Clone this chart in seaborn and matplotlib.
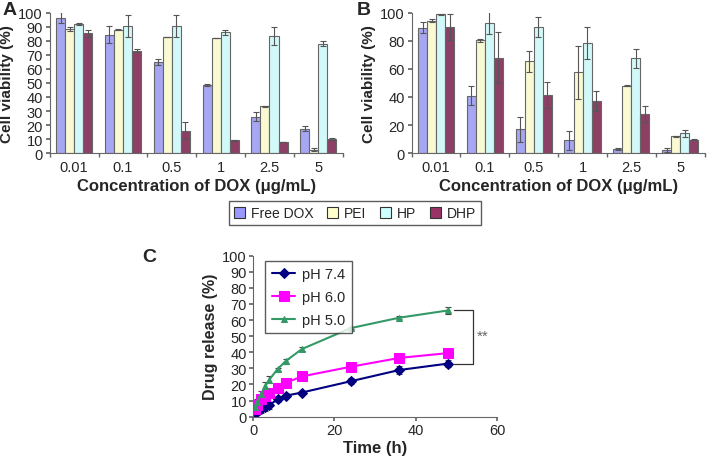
import numpy as np
import pandas as pd
import matplotlib
matplotlib.use("Agg")
import matplotlib.pyplot as plt
import seaborn as sns
from matplotlib.patches import Patch

sns.set_theme(style="white")
plt.rcParams['font.family'] = ['Liberation Sans', 'DejaVu Sans']

# ---- data ----
conc = ['0.01', '0.1', '0.5', '1', '2.5', '5']
groups = ['Free DOX', 'PEI', 'HP', 'DHP']
bar_colors = ['#9999FF', '#FFFFCC', '#CCFFFF', '#993366']

# panel A
a_free = [96.5, 84.5, 65.0, 48.5, 26.0, 17.5]
a_pei = [88.5, 88.0, 83.0, 82.0, 33.5, 2.5]
a_hp = [92.0, 90.5, 90.5, 86.0, 83.5, 78.0]
a_dhp = [85.5, 73.0, 16.0, 9.0, 8.0, 10.0]
a_free_err = [4.0, 6.0, 2.0, 1.0, 3.0, 1.5]
a_pei_err = [1.5, 0.5, 0.0, 0.3, 0.3, 1.0]
a_hp_err = [0.5, 8.0, 8.0, 1.5, 6.5, 2.0]
a_dhp_err = [2.5, 1.0, 6.0, 0.5, 0.0, 1.0]

# panel B
b_free = [89.5, 41.0, 17.0, 9.0, 3.0, 2.0]
b_pei = [94.5, 80.5, 65.5, 57.5, 48.0, 12.0]
b_hp = [99.0, 93.0, 90.0, 78.5, 67.5, 14.0]
b_dhp = [90.0, 68.0, 41.5, 37.0, 28.0, 9.5]
b_free_err = [4.0, 6.5, 9.0, 6.5, 0.5, 1.5]
b_pei_err = [1.0, 1.0, 7.5, 19.0, 0.3, 0.5]
b_hp_err = [0.5, 8.0, 7.0, 11.5, 6.5, 2.5]
b_dhp_err = [9.5, 18.0, 9.5, 7.0, 5.5, 0.5]

# panel C
time_h = [0.5, 1, 2, 3, 4, 6, 8, 12, 24, 36, 48]
ph74 = [2, 3, 5, 6, 7, 11, 13, 15, 22, 29, 33]
ph60 = [5, 7, 11, 13, 15, 18, 21, 25, 31, 36.5, 39.5]
ph50 = [6, 9, 14, 19, 23, 29.5, 34.5, 42, 55, 61.5, 66]
ph74_err = [2, 2, 3, 2.5, 2, 2, 1.5, 1, 2, 2.5, 2]
ph60_err = [2, 2, 2, 2.5, 2, 3, 2, 2.5, 2.5, 2.5, 2]
ph50_err = [2, 2, 2, 2.5, 2, 1, 1.5, 1.5, 0.8, 1, 2]

EDGE = '#666666'
ERR = '#555555'


def long_frame(vals, errs):
    rows = []
    for g, v, e in zip(groups, vals, errs):
        for c, vv, ee in zip(conc, v, e):
            rows.append({'conc': c, 'group': g, 'value': vv, 'err': ee})
    return pd.DataFrame(rows)


def bar_panel(ax, df, yticks, ymax):
    sns.barplot(data=df, x='conc', y='value', hue='group', hue_order=groups,
                palette=bar_colors, errorbar=None, width=0.74,
                edgecolor=EDGE, linewidth=0.8, legend=False, ax=ax)
    for cont, g in zip(ax.containers, groups):
        sub = df[df['group'] == g]
        xs = [p.get_x() + p.get_width() / 2 for p in cont.patches]
        ax.errorbar(xs, sub['value'], yerr=sub['err'], fmt='none',
                    ecolor=ERR, elinewidth=0.8, capsize=2, capthick=0.8)
    ax.set_ylim(0, ymax)
    ax.set_xlim(-0.5, 5.5)
    ax.set_yticks(yticks)
    ax.set_xticks(range(6))
    ax.set_xticks(np.arange(-0.5, 6, 1), minor=True)
    ax.tick_params(axis='x', which='major', length=0, labelsize=10.5, pad=5)
    ax.tick_params(axis='x', which='minor', length=3, color=EDGE, direction='out', bottom=True)
    ax.tick_params(axis='y', length=3, color=EDGE, direction='out', left=True, labelsize=10.5, pad=2)
    for s in ['top', 'right']:
        ax.spines[s].set_visible(False)
    for s in ['left', 'bottom']:
        ax.spines[s].set_color(EDGE)
        ax.spines[s].set_linewidth(0.8)
    ax.set_xlabel('Concentration of DOX (μg/mL)', fontsize=12, fontweight='bold', labelpad=3)
    ax.set_ylabel('Cell viability (%)', fontsize=11, fontweight='bold', labelpad=3)


fig = plt.figure(figsize=(7.11, 4.6), dpi=100)
axA = fig.add_axes([0.070, 0.665, 0.412, 0.305])
axB = fig.add_axes([0.579, 0.665, 0.412, 0.305])
axC = fig.add_axes([0.356, 0.092, 0.343, 0.350])

dfA = long_frame([a_free, a_pei, a_hp, a_dhp], [a_free_err, a_pei_err, a_hp_err, a_dhp_err])
dfB = long_frame([b_free, b_pei, b_hp, b_dhp], [b_free_err, b_pei_err, b_hp_err, b_dhp_err])
bar_panel(axA, dfA, range(0, 101, 10), 100)
bar_panel(axB, dfB, range(0, 101, 20), 100)

handles = [Patch(facecolor=c, edgecolor='#333333', linewidth=0.8, label=g)
           for g, c in zip(groups, bar_colors)]
fig.legend(handles=handles, loc='center', bbox_to_anchor=(0.499, 0.534), ncol=4,
           frameon=True, fancybox=False, edgecolor='#333333', fontsize=10,
           handlelength=0.8, handleheight=0.8, handletextpad=0.4, columnspacing=1.0,
           borderpad=0.35)

# panel C
dfC = pd.DataFrame({
    'time': time_h * 3,
    'release': ph74 + ph60 + ph50,
    'err': ph74_err + ph60_err + ph50_err,
    'pH': ['pH 7.4'] * len(time_h) + ['pH 6.0'] * len(time_h) + ['pH 5.0'] * len(time_h),
})
line_colors = {'pH 7.4': '#000080', 'pH 6.0': '#FF00FF', 'pH 5.0': '#339966'}
line_markers = {'pH 7.4': 'D', 'pH 6.0': 's', 'pH 5.0': '^'}
msizes = {'pH 7.4': 5, 'pH 6.0': 6.5, 'pH 5.0': 5}
for lab in ['pH 7.4', 'pH 6.0', 'pH 5.0']:
    sub = dfC[dfC['pH'] == lab]
    axC.errorbar(sub['time'], sub['release'], yerr=sub['err'], fmt='none',
                 ecolor='#444444', elinewidth=0.8, capsize=2, capthick=0.8, zorder=1)
    sns.lineplot(data=sub, x='time', y='release', color=line_colors[lab],
                 marker=line_markers[lab], markersize=msizes[lab],
                 markeredgecolor=line_colors[lab], linewidth=1.5, label=lab, ax=axC, zorder=2)

axC.set_xlim(0, 60)
axC.set_ylim(0, 100)
axC.set_xticks([0, 20, 40, 60])
axC.set_yticks(range(0, 101, 10))
axC.tick_params(axis='both', length=3, color=EDGE, direction='out', left=True, bottom=True,
                labelsize=10.5, pad=1.5)
for s in ['top', 'right']:
    axC.spines[s].set_visible(False)
for s in ['left', 'bottom']:
    axC.spines[s].set_color(EDGE)
    axC.spines[s].set_linewidth(0.8)
axC.set_xlabel('Time (h)', fontsize=12, fontweight='bold', labelpad=2)
axC.set_ylabel('Drug release (%)', fontsize=11.5, fontweight='bold', labelpad=3)
axC.legend(loc='upper left', bbox_to_anchor=(0.02, 1.015), frameon=True, fancybox=False,
           edgecolor='#333333', fontsize=10.5, handlelength=1.6, handletextpad=0.5,
           borderpad=0.45, labelspacing=0.6)

# significance bracket
axC.plot([49.5, 54, 54, 49.5], [66, 66, 33, 33], color='#333333', linewidth=0.9,
         clip_on=False)
axC.text(55, 50, '**', fontsize=11, color='#666666', va='center', ha='left')

fig.text(0.004, 0.995, 'A', fontsize=14, fontweight='bold', va='top', ha='left')
fig.text(0.502, 0.995, 'B', fontsize=14, fontweight='bold', va='top', ha='left')
fig.text(0.200, 0.458, 'C', fontsize=14, fontweight='bold', va='top', ha='left')

fig.savefig('out.png', dpi=100)
